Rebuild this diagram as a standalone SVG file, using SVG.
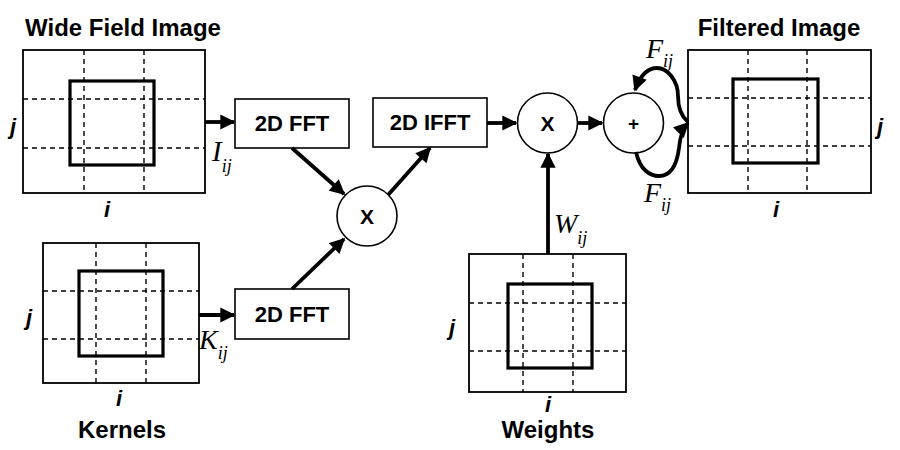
<svg xmlns="http://www.w3.org/2000/svg" width="900" height="450" viewBox="0 0 900 450">
<defs>
<marker id="ah" viewBox="0 0 10 10" refX="9" refY="5" markerWidth="4.2" markerHeight="4" orient="auto" markerUnits="strokeWidth">
<path d="M0,0 L10,5 L0,10 z" fill="#000"/>
</marker>
</defs>
<style>
.outer{fill:#fff;stroke:#000;stroke-width:1.8}
.inner{fill:none;stroke:#000;stroke-width:3.2}
.dash{fill:none;stroke:#000;stroke-width:1.4;stroke-dasharray:5,4}
.box{fill:#fff;stroke:#000;stroke-width:1.6}
.circ{fill:#fff;stroke:#000;stroke-width:1.6}
.t{font-family:"Liberation Sans",Arial,sans-serif;font-weight:bold;fill:#000}
.ax{font-family:"Liberation Sans",Arial,sans-serif;font-weight:bold;font-style:italic;font-size:22px;fill:#000}
.m{font-family:"Liberation Serif","Times New Roman",serif;font-style:italic;fill:#000}
.conn{fill:none;stroke:#000;stroke-width:3.8;marker-end:url(#ah)}
</style>
<rect width="900" height="450" fill="#fff"/>

<g id="wide-field-image">
<text class="t" x="123" y="36" font-size="24" text-anchor="middle">Wide Field Image</text>
<rect class="outer" x="23" y="50" width="182" height="143"/>
<line class="dash" x1="84" y1="50" x2="84" y2="193"/>
<line class="dash" x1="144" y1="50" x2="144" y2="193"/>
<line class="dash" x1="23" y1="99" x2="205" y2="99"/>
<line class="dash" x1="23" y1="148" x2="205" y2="148"/>
<rect class="inner" x="70" y="81" width="84" height="84"/>
<text class="ax" x="13" y="134" text-anchor="middle">j</text>
<text class="ax" x="107" y="217" text-anchor="middle">i</text>
</g>

<g id="kernels">
<rect class="outer" x="43" y="243" width="156" height="140"/>
<line class="dash" x1="96" y1="243" x2="96" y2="383"/>
<line class="dash" x1="146" y1="243" x2="146" y2="383"/>
<line class="dash" x1="43" y1="291" x2="199" y2="291"/>
<line class="dash" x1="43" y1="339" x2="199" y2="339"/>
<rect class="inner" x="79" y="271" width="84" height="85"/>
<text class="ax" x="29" y="325" text-anchor="middle">j</text>
<text class="ax" x="119" y="406" text-anchor="middle">i</text>
<text class="t" x="122" y="438" font-size="24" text-anchor="middle">Kernels</text>
</g>

<g id="fft-top">
<rect class="box" x="235" y="99" width="114" height="49"/>
<text class="t" x="292" y="131" font-size="22" text-anchor="middle">2D FFT</text>
</g>

<g id="fft-bottom">
<rect class="box" x="235" y="289" width="114" height="50"/>
<text class="t" x="292" y="322" font-size="22" text-anchor="middle">2D FFT</text>
</g>

<g id="multiply-1">
<circle class="circ" cx="367" cy="216" r="30"/>
<text class="t" x="367" y="224" font-size="21" text-anchor="middle">X</text>
</g>

<g id="ifft">
<rect class="box" x="373" y="98" width="114" height="49"/>
<text class="t" x="430" y="130" font-size="22" text-anchor="middle">2D IFFT</text>
</g>

<g id="multiply-2">
<circle class="circ" cx="547.5" cy="123" r="30"/>
<text class="t" x="547.5" y="131" font-size="21" text-anchor="middle">X</text>
</g>

<g id="sum">
<circle class="circ" cx="633.5" cy="123" r="30"/>
<text class="t" x="633.5" y="130" font-size="19" text-anchor="middle">+</text>
</g>

<g id="weights">
<rect class="outer" x="469" y="254" width="157" height="138"/>
<line class="dash" x1="523" y1="254" x2="523" y2="392"/>
<line class="dash" x1="573" y1="254" x2="573" y2="392"/>
<line class="dash" x1="469" y1="303" x2="626" y2="303"/>
<line class="dash" x1="469" y1="351" x2="626" y2="351"/>
<rect class="inner" x="508" y="284" width="84" height="84"/>
<text class="ax" x="452" y="335" text-anchor="middle">j</text>
<text class="ax" x="548" y="412" text-anchor="middle">i</text>
<text class="t" x="548" y="438" font-size="24" text-anchor="middle">Weights</text>
</g>

<g id="filtered-image">
<text class="t" x="779" y="36" font-size="24" text-anchor="middle">Filtered Image</text>
<rect class="outer" x="688" y="50" width="183" height="143"/>
<line class="dash" x1="748" y1="50" x2="748" y2="193"/>
<line class="dash" x1="807" y1="50" x2="807" y2="193"/>
<line class="dash" x1="688" y1="98" x2="871" y2="98"/>
<line class="dash" x1="688" y1="146" x2="871" y2="146"/>
<rect class="inner" x="733" y="79" width="85" height="84"/>
<text class="ax" x="880" y="134" text-anchor="middle">j</text>
<text class="ax" x="776" y="217" text-anchor="middle">i</text>
</g>

<g id="connectors">
<line class="conn" x1="205" y1="122" x2="234" y2="122"/>
<line class="conn" x1="199" y1="315" x2="234" y2="315"/>
<line class="conn" x1="292" y1="148" x2="344" y2="194"/>
<line class="conn" x1="292" y1="289" x2="344" y2="239"/>
<line class="conn" x1="388" y1="195" x2="430" y2="148"/>
<line class="conn" x1="487" y1="123" x2="516" y2="123"/>
<line class="conn" x1="578" y1="123" x2="602" y2="123"/>
<line class="conn" x1="548" y1="254" x2="548" y2="154"/>
<path class="conn" d="M688,122 C681,116 678,108 678,96 C678,80 667,68 657,68 C647,68 640,76 635,90"/>
<path class="conn" d="M636,152 C640,170 650,176 659,176 C672,176 677,164 679,148 C680,137 683,128 688,123"/>
</g>

<g id="labels">
<text class="m" x="212" y="161" font-size="29">I<tspan font-size="18" dy="11">ij</tspan></text>
<text class="m" x="199" y="349" font-size="28">K<tspan font-size="18" dy="10">ij</tspan></text>
<text class="m" x="554" y="233" font-size="28">W<tspan font-size="18" dy="11">ij</tspan></text>
<text class="m" x="646" y="58" font-size="28">F<tspan font-size="18" dy="9">ij</tspan></text>
<text class="m" x="644" y="202" font-size="28">F<tspan font-size="18" dy="9">ij</tspan></text>
</g>
</svg>
